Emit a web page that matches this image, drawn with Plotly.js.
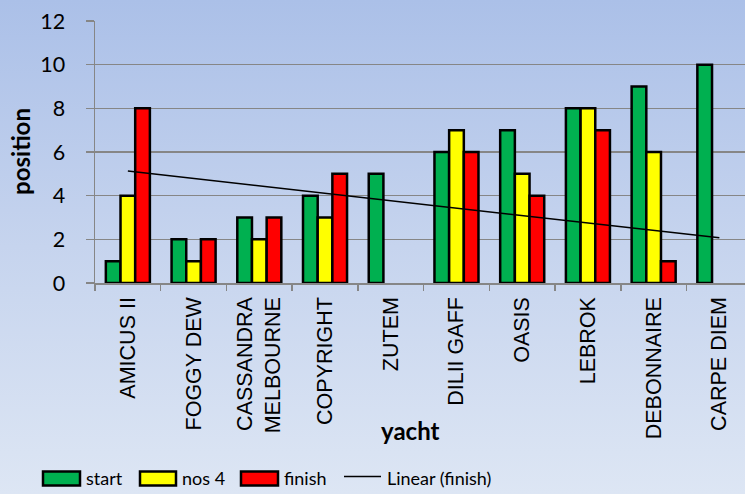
<!DOCTYPE html>
<html>
<head>
<meta charset="utf-8">
<script src="https://cdn.plot.ly/plotly-3.0.1.min.js"></script>
<style>
  html, body { margin:0; padding:0; }
  body { width:745px; height:494px; background: linear-gradient(to bottom, #abc0e8 0%, #c6d4ee 50%, #dde6f4 100%); }
  #chart { width:745px; height:494px; }
</style>
</head>
<body>
<div id="chart"></div>
<script>
const yachts = ["AMICUS II","FOGGY DEW","CASSANDRA<br>MELBOURNE","COPYRIGHT","ZUTEM","DILII GAFF","OASIS","LEBROK","DEBONNAIRE","CARPE DIEM"];
const start  = [1, 2, 3, 4, 5, 6, 7, 8, 9, 10];
const nos4   = [4, 1, 2, 3, null, 7, 5, 8, 6, null];
const finish = [8, 2, 3, 5, null, 6, 4, 7, 1, null];
const seriesNames = ["start", "nos 4", "finish", "Linear (finish)"];
const yTicks = [0, 2, 4, 6, 8, 10, 12];

// Excel-style linear trendline of "finish" (empty cells counted as 0)
const n = finish.length;
const xs = finish.map((_, i) => i + 1);
const ys = finish.map(v => (v == null ? 0 : v));
const mx = xs.reduce((a, b) => a + b, 0) / n;
const my = ys.reduce((a, b) => a + b, 0) / n;
let sxy = 0, sxx = 0;
for (let i = 0; i < n; i++) { sxy += (xs[i] - mx) * (ys[i] - my); sxx += (xs[i] - mx) ** 2; }
const slope = sxy / sxx;
const intercept = my - slope * mx;
const trendY = [intercept + slope * xs[0], intercept + slope * xs[n - 1]];

const colors = ["#00b050", "#ffff00", "#ff0000"];
const W = 745, H = 494;
const mL = 95, mR = 0, mT = 20.7, mB = 210.5;
const pw = W - mL - mR, ph = H - mT - mB;
const px = x => (x - mL) / pw;
const py = y => (H - mB - y) / ph;

const barLine = { color: "#000000", width: 2.5 };
const traces = [
  { type: "bar", name: seriesNames[0], x: yachts, y: start,  marker: { color: colors[0], line: barLine } },
  { type: "bar", name: seriesNames[1], x: yachts, y: nos4,   marker: { color: colors[1], line: barLine } },
  { type: "bar", name: seriesNames[2], x: yachts, y: finish, marker: { color: colors[2], line: barLine } },
  { type: "scatter", mode: "lines", name: seriesNames[3], x: [yachts[0], yachts[n - 1]], y: trendY,
    line: { color: "#000000", width: 1.5 } }
];

// custom legend
const legendY = 479.5;
const legItems = [
  { x0: 43, x1: 80, tx: 84, label: seriesNames[0], color: colors[0] },
  { x0: 140, x1: 176, tx: 180, label: seriesNames[1], color: colors[1] },
  { x0: 241, x1: 278, tx: 282, label: seriesNames[2], color: colors[2] }
];
const shapes = [];
const annotations = [];
legItems.forEach(it => {
  shapes.push({ type: "rect", xref: "paper", yref: "paper",
    x0: px(it.x0), x1: px(it.x1), y0: py(legendY + 7), y1: py(legendY - 7),
    fillcolor: it.color, line: { color: "#000000", width: 2.5 } });
  annotations.push({ xref: "paper", yref: "paper", x: px(it.tx), y: py(legendY), xanchor: "left", yanchor: "middle",
    text: it.label, showarrow: false, font: { family: "Lato, sans-serif", size: 18, color: "#000000" } });
});
shapes.push({ type: "line", xref: "paper", yref: "paper", x0: px(344), x1: px(381), y0: py(legendY - 2), y1: py(legendY - 2),
  line: { color: "#000000", width: 1.5 } });
annotations.push({ xref: "paper", yref: "paper", x: px(385), y: py(legendY), xanchor: "left", yanchor: "middle",
  text: seriesNames[3], showarrow: false, font: { family: "Lato, sans-serif", size: 18, color: "#000000" } });
// axis titles
annotations.push({ xref: "paper", yref: "paper", x: px(410), y: py(431), xanchor: "center", yanchor: "middle",
  text: "<b>yacht</b>", showarrow: false, font: { family: "Lato, sans-serif", size: 24, color: "#000000" } });
annotations.push({ xref: "paper", yref: "paper", x: px(21), y: py(152), xanchor: "center", yanchor: "middle", textangle: -90,
  text: "<b>position</b>", showarrow: false, font: { family: "Lato, sans-serif", size: 24, color: "#000000" } });

const layout = {
  width: W, height: H,
  margin: { l: mL, r: mR, t: mT, b: mB, pad: 0 },
  paper_bgcolor: "rgba(0,0,0,0)",
  plot_bgcolor: "rgba(0,0,0,0)",
  showlegend: false,
  barmode: "group",
  bargap: 0.33,
  bargroupgap: 0,
  xaxis: {
    type: "category",
    range: [-0.5, 9.39],
    tickangle: -90,
    tickson: "boundaries",
    ticks: "outside", ticklen: 6, tickcolor: "#868686", tickwidth: 1.5,
    showline: true, linecolor: "#868686", linewidth: 1.5,
    showgrid: false,
    tickfont: { family: "'Liberation Sans', Arial, sans-serif", size: 21.5, color: "#000000" },
    ticklabelstandoff: 4
  },
  yaxis: {
    range: [0, 12],
    tickvals: yTicks,
    ticktext: yTicks.map(String),
    ticks: "outside", ticklen: 8, tickcolor: "#868686", tickwidth: 1.5,
    showline: true, linecolor: "#868686", linewidth: 1.5,
    showgrid: true, gridcolor: "#868686", gridwidth: 1.5,
    zeroline: false,
    tickfont: { family: "Lato, sans-serif", size: 21.5, color: "#000000" },
    ticklabelstandoff: 16
  },
  shapes: shapes,
  annotations: annotations
};

Plotly.newPlot("chart", traces, layout, { displayModeBar: false, staticPlot: true });
</script>
</body>
</html>
